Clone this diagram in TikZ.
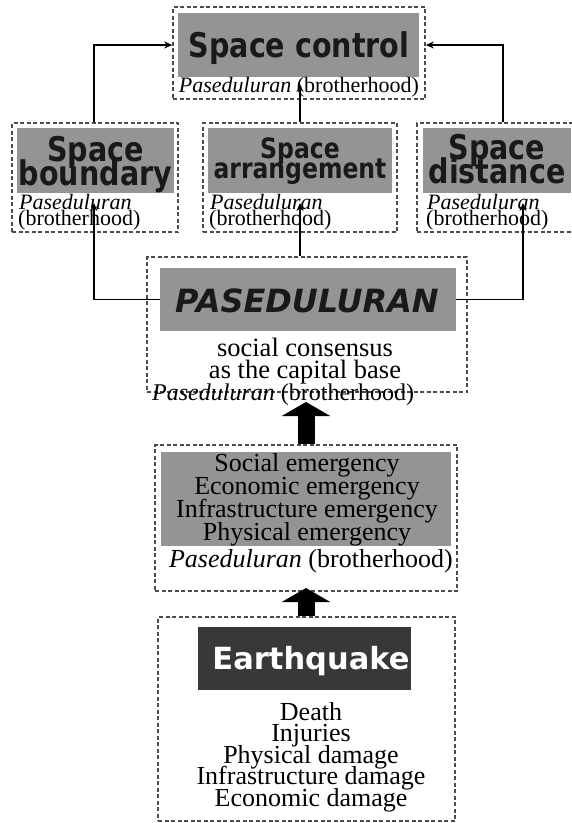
\documentclass[tikz,border=0pt]{standalone}
\usepackage{fontspec}
\setmainfont{Liberation Serif}
\newfontfamily\headfont{DejaVu Sans}[FakeStretch=0.84]
\newfontfamily\quakefont{DejaVu Sans}
\usetikzlibrary{arrows.meta}
\lineskiplimit=-40pt

\tikzset{
  dashbox/.style={draw=black!70, line width=1.6pt, dash pattern=on 4pt off 2.5pt, inner sep=0pt},
  greybox/.style={fill=black!42, inner sep=0pt},
  headtext/.style={inner sep=0pt, align=center, text=black!90},
  bodytext/.style={inner sep=0pt, align=center, font=\fontsize{26}{22}\selectfont},
  subtext/.style={inner sep=0pt, font=\fontsize{22}{16}\selectfont},
  link/.style={line width=1.8pt, -{Stealth[length=8pt,width=7pt]}},
  bigarrow/.style={line width=17pt, -{Triangle[length=14pt,width=48pt]}}
}

\begin{document}
\begin{tikzpicture}[x=1pt, y=-1pt]
\useasboundingbox (0,0) rectangle (572,823);
\clip (0,0) rectangle (572,823);
	% space control
	\node [dashbox, minimum width=252pt, minimum height=92pt] (0) at (299, 53) {};
	\node [greybox, minimum width=241pt, minimum height=64pt] (1) at (298.5, 45) {};
	\node [headtext, anchor=base, font=\headfont\bfseries\fontsize{34}{34}\selectfont] (2) at (299, 57) {Space control};
	\node [subtext, anchor=base] (3) at (299, 92) {\textit{Paseduluran} (brotherhood)};
	% space boundary
	\node [dashbox, minimum width=166pt, minimum height=109pt] (4) at (95, 177.5) {};
	\node [greybox, minimum width=157pt, minimum height=65pt] (5) at (95.5, 160.5) {};
	\node [headtext, anchor=base, font=\headfont\bfseries\fontsize{34}{24}\selectfont] (6) at (95.5, 185) {Space\\boundary};
	\node [subtext, anchor=base west] (7) at (19, 209) {\textit{Paseduluran}};
	\node [subtext, anchor=base west] (8) at (18, 225) {(brotherhood)};
	% space arrangement
	\node [dashbox, minimum width=194pt, minimum height=109pt] (9) at (300, 177.5) {};
	\node [greybox, minimum width=184pt, minimum height=65pt] (10) at (300, 160.5) {};
	\node [headtext, anchor=base, font=\headfont\bfseries\fontsize{28}{20}\selectfont] (11) at (300, 178) {Space\\arrangement};
	\node [subtext, anchor=base west] (12) at (210, 209) {\textit{Paseduluran}};
	\node [subtext, anchor=base west] (13) at (209, 225) {(brotherhood)};
	% space distance
	\node [dashbox, minimum width=160pt, minimum height=109pt] (14) at (497, 177.5) {};
	\node [greybox, minimum width=148pt, minimum height=65pt] (15) at (497, 160.5) {};
	\node [headtext, anchor=base, font=\headfont\bfseries\fontsize{34}{24}\selectfont] (16) at (497, 183) {Space\\distance};
	\node [subtext, anchor=base west] (17) at (427, 209) {\textit{Paseduluran}};
	\node [subtext, anchor=base west] (18) at (426, 225) {(brotherhood)};
	% paseduluran
	\node [dashbox, minimum width=320pt, minimum height=135pt] (19) at (307, 324.5) {};
	\node [greybox, minimum width=296pt, minimum height=63pt] (20) at (308, 299.5) {};
	\node [headtext, anchor=base, font=\quakefont\bfseries\itshape\fontsize{32}{32}\selectfont] (21) at (307, 312) {PASEDULURAN};
	\node [bodytext, anchor=base, font=\fontsize{26.5}{22}\selectfont] (22) at (305, 378) {social consensus\\as the capital base};
	\node [bodytext, anchor=base west, font=\fontsize{24}{22}\selectfont] (23) at (152, 400) {\textit{Paseduluran} (brotherhood)};
	% emergency
	\node [dashbox, minimum width=302pt, minimum height=146pt] (24) at (306, 518) {};
	\node [greybox, minimum width=290pt, minimum height=94pt] (25) at (306, 499) {};
	\node [bodytext, anchor=base, font=\fontsize{26}{22.7}\selectfont] (26) at (307, 540) {Social emergency\\Economic emergency\\Infrastructure emergency\\Physical emergency};
	\node [bodytext, anchor=base] (27) at (311, 567) {\textit{Paseduluran} (brotherhood)};
	% earthquake
	\node [dashbox, minimum width=297pt, minimum height=204pt] (28) at (306.5, 719) {};
	\node [fill=black!78, minimum width=213pt, minimum height=63pt, inner sep=0pt] (29) at (304.5, 658.5) {};
	\node [headtext, anchor=base, text=white, font=\quakefont\bfseries\fontsize{30.5}{30}\selectfont] (30) at (311, 669) {Earthquake};
	\node [bodytext, anchor=base, font=\fontsize{26}{21.5}\selectfont] (31) at (311, 806) {Death\\Injuries\\Physical damage\\Infrastructure damage\\Economic damage};
	% tips
	\coordinate (32) at (300, 84);
	\coordinate (33) at (94, 203);
	\coordinate (34) at (300, 203);
	\coordinate (35) at (523, 203);
	\coordinate (36) at (306, 402);
	\coordinate (37) at (306, 588);
	% edges
	\draw [link] (4.north -| 33) |- (0.west |- 1.center);
	\draw [link] ([xshift=6pt]14.north) |- (0.east |- 1.center);
	\draw [link] (9.north) -- (32);
	\draw [link] (20.west) -| (33);
	\draw [link] (20.east) -| (35);
	\draw [link] (19.north -| 34) -- (34);
	% big arrows
	\draw [bigarrow] (24.north -| 36) -- (36);
	\draw [bigarrow] (28.north -| 37) -- (37);
\end{tikzpicture}
\end{document}
